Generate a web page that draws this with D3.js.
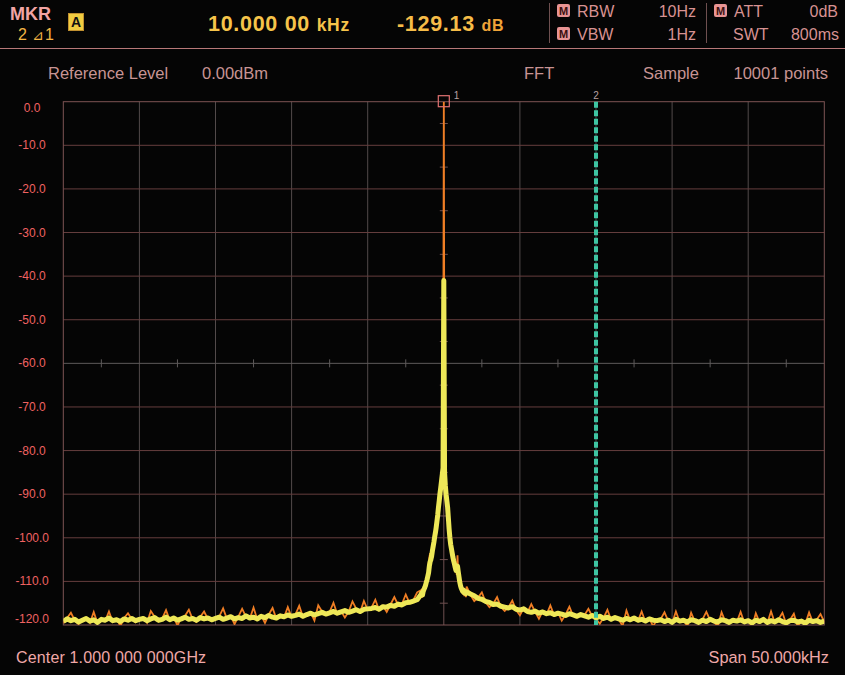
<!DOCTYPE html>
<html><head><meta charset="utf-8">
<script src="https://cdn.jsdelivr.net/npm/d3@7"></script>
<style>
html,body{margin:0;padding:0;background:#050505;}
svg{display:block;font-family:"Liberation Sans",Arial,sans-serif;}
</style></head>
<body>
<svg id="c" width="845" height="675"></svg>
<script>
// ---------- data ----------
const spanKHz = [-25, 25];            // offset from centre, kHz
const levelDb = [-120, 0];
const yTicks = [0,-10,-20,-30,-40,-50,-60,-70,-80,-90,-100,-110,-120];
const yTickLabels = ["0.0","-10.0","-20.0","-30.0","-40.0","-50.0","-60.0","-70.0","-80.0","-90.0","-100.0","-110.0","-120.0"];
const xTicks = [-25,-20,-15,-10,-5,0,5,10,15,20,25];
const marker1 = {khz: 0, db: 0, label: "1"};
const marker2 = {khz: 10, label: "2"};

// frequency bins (kHz offsets)
const freqLeft  = d3.range(-25, -1.74, 0.25);
const freqSkirt = d3.range(-1.5, 1.49, 0.05);
const freqRight = d3.range(1.5, 25.01, 0.25);

// yellow trace (dB)
const yellowLeft = [
 -119.2,-118.6,-119.0,-118.7,-119.3,-118.9,-118.5,-119.1,-118.8,-119.4,-118.7,-118.9,-118.4,-119.0,-118.8,-119.2,-118.6,-118.9,-118.5,-119.0,-118.7,
 -118.5,-119.0,-118.6,-118.3,-118.9,-118.7,-118.2,-118.8,-118.4,-118.9,-118.6,-118.2,-118.7,-118.5,-118.9,-118.3,-118.6,-118.4,-118.8,-118.5,
 -118.2,-118.7,-118.4,-118.1,-118.6,-118.3,-118.5,-117.9,-118.4,-118.2,-118.6,-118.0,-118.3,-117.8,-118.2,-118.4,-117.9,-118.1,-117.7,-118.0,
 -117.8,-117.5,-118.0,-117.6,-117.3,-117.7,-117.4,-117.1,-117.5,-117.2,-116.9,-117.3,-117.0,-116.7,-117.1,-116.8,-116.5,-116.9,-116.4,-116.3,
 -116.2,-116.0,-116.4,-115.8,-115.9,-115.5,-115.7,-115.2,-115.4,-114.9,-114.8,-114.5,-114.2];
const yellowSkirt = [
 -113.0,-112.6,-113.1,-112.2,-111.8,-111.4,-110.9,-110.2,-109.6,-108.8,
 -108.0,-106.5,-105.5,-105.0,-104.2,-103.0,-102.0,-101.0,-99.8,-98.8,
 -97.6,-96.2,-94.8,-93.0,-91.5,-89.8,-88.5,-87.0,-85.5,-84.0,
 -41.0,-85.0,-88.0,-90.0,-91.5,-93.0,-95.5,-98.0,-100.0,-101.5,
 -102.5,-103.5,-104.5,-105.3,-106.0,-106.8,-107.5,-107.2,-106.5,-107.8,
 -109.0,-110.2,-111.0,-111.6,-112.0,-112.3,-112.0,-112.6,-112.4,-112.8];
const yellowRight = [
 -112.4,-112.9,-113.3,-113.9,-114.1,-114.6,-114.8,-115.3,-115.2,-115.7,-115.9,
 -116.1,-115.8,-116.4,-116.6,-116.3,-116.9,-117.1,-116.8,-117.3,-117.0,-117.4,-117.2,-117.6,-117.3,-117.5,-117.8,-117.4,-117.7,-118.0,-117.6,
 -117.9,-118.2,-117.8,-118.4,-118.0,-118.5,-118.2,-118.7,-118.3,-118.6,-118.9,-118.5,-118.8,-118.4,-118.9,-118.7,-119.1,-118.6,-118.9,-119.0,
 -118.8,-119.2,-118.9,-119.4,-118.7,-119.1,-118.9,-119.3,-118.8,-119.0,-119.4,-118.9,-119.2,-118.7,-119.1,-119.3,-118.8,-119.0,-119.4,-118.9,
 -119.1,-118.8,-119.3,-119.0,-119.5,-118.9,-119.2,-118.7,-119.4,-119.0,-119.3,-118.8,-119.2,-119.5,-119.0,-118.9,-119.3,-119.1,-119.6,-118.9,-119.2,-119.0,-119.4,-119.1];

// orange trace (dB)
const orangeLeft = [
 -119.6,-118.4,-117.2,-118.9,-119.8,-118.7,-118.3,-119.5,-117.0,-119.6,-118.5,-119.1,-116.9,-119.3,-118.6,-120.2,-118.4,-117.3,-118.7,-119.4,-118.5,
 -118.3,-119.5,-116.8,-118.1,-119.2,-118.5,-116.6,-119.0,-118.2,-120.1,-118.4,-117.9,-116.5,-118.7,-119.3,-118.1,-116.9,-118.6,-119.1,-118.3,
 -118.0,-116.2,-118.6,-117.9,-119.8,-118.1,-116.3,-118.1,-118.6,-116.0,-118.8,-117.8,-119.5,-117.6,-116.1,-118.6,-117.7,-118.3,-115.9,-118.2,
 -117.6,-115.6,-118.2,-117.4,-117.1,-119.0,-115.5,-116.9,-117.7,-117.0,-114.9,-117.5,-116.8,-118.3,-116.9,-114.6,-116.3,-117.1,-114.5,-116.5,
 -116.0,-114.2,-116.6,-115.6,-117.0,-115.3,-113.6,-115.4,-115.2,-113.0,-115.0,-114.3,-112.5];
const orangeSkirt = [
 -112.0,-113.8,-111.6,-113.0,-110.8,-112.3,-109.9,-111.0,-108.5,-109.8,
 -106.0,-104.5,-103.5,-106.0,-103.8,-104.0,-101.2,-101.8,-99.0,-99.5,
 -96.8,-97.0,-93.8,-93.6,-90.8,-90.4,-87.6,-87.8,-85.0,-86.5,
 0.0,-86.0,-87.5,-89.2,-92.0,-94.5,-95.0,-97.2,-99.0,-102.0,
 -101.8,-104.2,-103.8,-106.0,-105.2,-107.5,-106.8,-108.5,-104.0,-108.8,
 -108.0,-111.0,-110.2,-112.5,-111.2,-113.0,-111.5,-113.4,-111.8,-113.6];
const orangeRight = [
 -111.2,-113.1,-114.5,-113.7,-112.5,-114.8,-115.9,-115.1,-113.6,-115.9,-116.8,
 -115.9,-114.4,-116.6,-117.8,-116.1,-117.1,-115.2,-117.0,-118.6,-116.8,-117.6,-115.5,-117.8,-117.1,-119.0,-117.6,-115.8,-117.9,-118.2,-117.4,
 -117.7,-116.3,-118.0,-118.6,-119.7,-118.3,-116.5,-118.9,-118.1,-118.8,-120.2,-116.7,-119.0,-118.2,-119.1,-116.9,-119.3,-118.4,-120.3,-118.8,
 -118.6,-117.1,-119.1,-119.6,-116.9,-119.3,-118.7,-120.4,-117.2,-119.2,-119.6,-118.7,-117.0,-118.9,-119.3,-120.3,-117.1,-119.2,-119.6,-118.7,
 -119.3,-117.0,-119.5,-118.8,-120.5,-117.3,-119.4,-118.5,-119.6,-116.9,-119.5,-118.6,-117.2,-119.7,-118.8,-117.4,-120.4,-118.9,-119.8,-117.1,-119.4,-118.8,-117.5,-119.3];

// ---------- drawing ----------
const svg = d3.select("#c");
const plot = {left: 63.3, right: 824.3, top: 101.7, bottom: 625};
const x = d3.scaleLinear().domain(spanKHz).range([plot.left, plot.right]);
const y = d3.scaleLinear().domain(levelDb).range([plot.bottom, plot.top]);

svg.append("rect").attr("width",845).attr("height",675).attr("fill","#050505");

// header
const hdr = svg.append("g");
hdr.append("line").attr("x1",0).attr("x2",845).attr("y1",48.5).attr("y2",48.5).attr("stroke","#b87878").attr("stroke-width",1.2);
hdr.append("text").attr("x",10).attr("y",20).attr("font-size",18).attr("font-weight","bold").attr("fill","#f2a4a4").text("MKR");
hdr.append("text").attr("x",18).attr("y",40).attr("font-size",16).attr("fill","#f4b444").text("2");
hdr.append("text").attr("x",32).attr("y",40).attr("font-size",14).attr("fill","#f4b444").attr("font-family","DejaVu Sans").text("⊿");
hdr.append("text").attr("x",45).attr("y",40).attr("font-size",16).attr("fill","#f4b444").text("1");
hdr.append("rect").attr("x",68.5).attr("y",13.5).attr("width",15).attr("height",17).attr("fill","#f0cc40").attr("stroke","#c09030");
hdr.append("text").attr("x",76).attr("y",27).attr("text-anchor","middle").attr("font-size",14).attr("font-weight","bold").attr("fill","#111").text("A");
const f1 = hdr.append("text").attr("x",208).attr("y",31).attr("fill","#f6c44a").attr("font-weight","bold").attr("letter-spacing",0.7);
f1.append("tspan").attr("font-size",21.5).text("10.000 00 ");
f1.append("tspan").attr("font-size",17.5).text("kHz");
const f2 = hdr.append("text").attr("x",397).attr("y",31).attr("fill","#f6bc48").attr("font-weight","bold").attr("letter-spacing",0.7);
f2.append("tspan").attr("font-size",21.5).text("-129.13 ");
f2.append("tspan").attr("font-size",16).attr("fill","#f0a438").text("dB");
hdr.append("line").attr("x1",549.5).attr("x2",549.5).attr("y1",3).attr("y2",43).attr("stroke","#6e5050");
hdr.append("line").attr("x1",706.5).attr("x2",706.5).attr("y1",3).attr("y2",43).attr("stroke","#6e5050");
function mIcon(px, py){
  hdr.append("rect").attr("x",px).attr("y",py).attr("width",13).attr("height",13).attr("rx",2).attr("fill","#e89494");
  hdr.append("text").attr("x",px+6.5).attr("y",py+11).attr("text-anchor","middle").attr("font-size",11).attr("font-weight","bold").attr("fill","#3a1010").text("M");
}
mIcon(557,4); mIcon(557,27); mIcon(714,4);
const pinkTxt = "#d89292";
[["RBW",577,17,"start"],["VBW",577,40,"start"],["10Hz",696,17,"end"],["1Hz",696,40,"end"],
 ["ATT",734,17,"start"],["SWT",733,40,"start"],["0dB",838,17,"end"],["800ms",839,40,"end"]]
 .forEach(d=>hdr.append("text").attr("x",d[1]).attr("y",d[2]).attr("text-anchor",d[3]).attr("font-size",16).attr("fill",pinkTxt).text(d[0]));

// info row
const infoC = "#c89494";
[["Reference Level",48,"start"],["0.00dBm",202,"start"],["FFT",524,"start"],["Sample",643,"start"],["10001 points",828,"end"]]
 .forEach(d=>svg.append("text").attr("x",d[1]).attr("y",79).attr("text-anchor",d[2]).attr("font-size",16.5).attr("fill",infoC).text(d[0]));

// bottom row
svg.append("text").attr("x",16).attr("y",663).attr("font-size",16).attr("letter-spacing",0.15).attr("fill","#f0a8a8").text("Center 1.000 000 000GHz");
svg.append("text").attr("x",829).attr("y",663).attr("text-anchor","end").attr("font-size",16.3).attr("fill","#f0a8a8").text("Span 50.000kHz");

// grid
const grid = svg.append("g");
xTicks.forEach(v=>{
  if (v===spanKHz[0]||v===spanKHz[1]) return;
  grid.append("line").attr("x1",x(v)).attr("x2",x(v)).attr("y1",plot.top).attr("y2",plot.bottom)
    .attr("stroke", v===0 ? "#6e5050" : "#524a4a").attr("stroke-width",1);
});
yTicks.forEach(v=>{
  if (v===levelDb[0]||v===levelDb[1]) return;
  grid.append("line").attr("x1",plot.left).attr("x2",plot.right).attr("y1",y(v)).attr("y2",y(v))
    .attr("stroke", v===-60 ? "#5e5a5a" : "#663e3e").attr("stroke-width",1);
});
// minor ticks on centre lines
for (let i=0;i<xTicks.length-1;i++){
  const xm = x((xTicks[i]+xTicks[i+1])/2);
  grid.append("line").attr("x1",xm).attr("x2",xm).attr("y1",y(-60)-4).attr("y2",y(-60)+4).attr("stroke","#5e5a5a");
}
for (let i=0;i<yTicks.length-1;i++){
  const ym = y((yTicks[i]+yTicks[i+1])/2);
  grid.append("line").attr("x1",x(0)-4).attr("x2",x(0)+4).attr("y1",ym).attr("y2",ym).attr("stroke","#6e5050");
}
grid.append("rect").attr("x",plot.left).attr("y",plot.top).attr("width",plot.right-plot.left).attr("height",plot.bottom-plot.top)
  .attr("fill","none").attr("stroke","#7e5454").attr("stroke-width",1);

// y labels
yTicks.forEach((v,i)=>{
  const yy = Math.min(Math.max(y(v), 108), 619);
  svg.append("text").attr("x",32).attr("y",yy+4).attr("text-anchor","middle").attr("font-size",12)
    .attr("fill","#f06262").text(yTickLabels[i]);
});

// traces
svg.append("clipPath").attr("id","pc").append("rect")
  .attr("x",plot.left).attr("y",plot.top).attr("width",plot.right-plot.left).attr("height",plot.bottom-plot.top);
const freqs = freqLeft.concat(freqSkirt, freqRight);
const yellow = yellowLeft.concat(yellowSkirt, yellowRight);
const orange = orangeLeft.concat(orangeSkirt, orangeRight);
const line = d3.line().x(d=>x(d[0])).y(d=>y(d[1]));
const tg = svg.append("g").attr("clip-path","url(#pc)");
tg.append("path").datum(freqs.map((f,i)=>[f,orange[i]])).attr("d",line)
  .attr("fill","none").attr("stroke","#f07e24").attr("stroke-width",1.8);
tg.append("path").datum(freqs.map((f,i)=>[f,yellow[i]])).attr("d",line)
  .attr("fill","none").attr("stroke","#eee858").attr("stroke-width",5).attr("stroke-linejoin","round");

// marker 2
svg.append("line").attr("x1",x(marker2.khz)).attr("x2",x(marker2.khz)).attr("y1",plot.top).attr("y2",plot.bottom)
  .attr("stroke","#3ec4a2").attr("stroke-width",4).attr("stroke-dasharray","6,2.5");
svg.append("text").attr("x",x(marker2.khz)).attr("y",99).attr("text-anchor","middle").attr("font-size",10).attr("fill","#b8a0a0").text(marker2.label);
// marker 1
svg.append("rect").attr("x",x(marker1.khz)-5.5).attr("y",y(marker1.db)-6).attr("width",11).attr("height",11)
  .attr("fill","none").attr("stroke","#e07272").attr("stroke-width",1.2);
svg.append("text").attr("x",x(marker1.khz)+10).attr("y",99).attr("font-size",10).attr("fill","#b8a0a0").text(marker1.label);
</script>
</body></html>
